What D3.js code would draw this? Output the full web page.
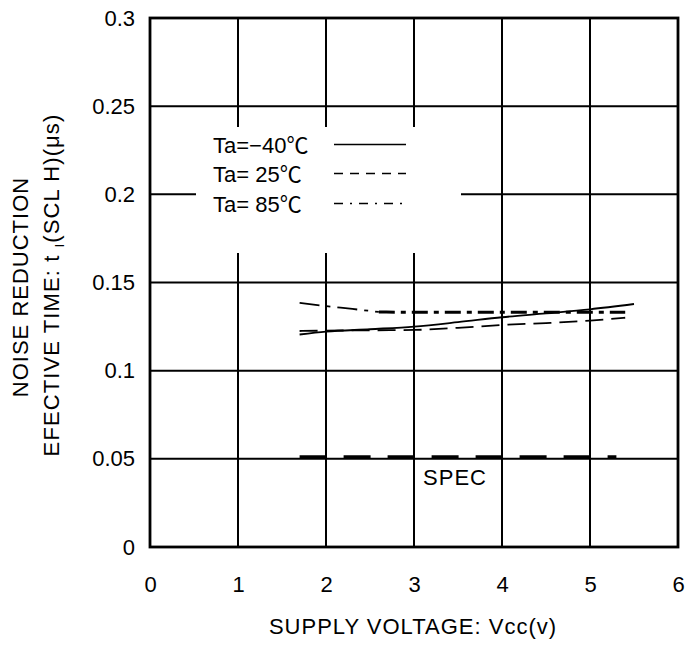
<!DOCTYPE html>
<html><head><meta charset="utf-8">
<script src="https://cdn.jsdelivr.net/npm/d3@7"></script>
<style>
body{margin:0;background:#fff;}
text{font-family:"Liberation Sans",Arial,"Noto Sans CJK JP",sans-serif;fill:#000;}
</style></head>
<body><svg id="c" width="686" height="645"></svg>
<script>
const xTicks = [0,1,2,3,4,5,6];
const yTicks = [0,0.05,0.1,0.15,0.2,0.25,0.3];
const yTickLabels = ["0","0.05","0.1","0.15","0.2","0.25","0.3"];

const vM40 = [1.7, 2.0, 2.5, 3.0, 3.5, 4.0, 4.5, 5.0, 5.5];
const tM40 = [0.1205, 0.1221, 0.1235, 0.1250, 0.1275, 0.1303, 0.1325, 0.1348, 0.1378];
const v25 = [1.7, 2.0, 2.5, 3.0, 3.5, 4.0, 4.5, 5.0, 5.4];
const t25 = [0.1225, 0.1227, 0.1229, 0.1231, 0.1243, 0.1259, 0.1270, 0.1284, 0.1300];
const v85 = [1.7, 2.0, 2.3, 2.6, 3.0, 4.0, 5.0, 5.4];
const t85 = [0.1384, 0.1366, 0.1350, 0.1333, 0.1331, 0.1331, 0.1331, 0.1331];
const specV = [1.7, 5.3];
const specT = [0.051, 0.051];

const legendLabels = ["Ta=−40℃","Ta= 25℃","Ta= 85℃"];
const dashes = [null, "18,8", "20,7,4,7"];
const legendDashes = [null, "9,7", "9,7,2,7"];

const FS = 22;
const svg = d3.select("#c");
const x = d3.scaleLinear().domain([0,6]).range([150,678]);
const y = d3.scaleLinear().domain([0,0.3]).range([547,18]);

// grid
const g = svg.append("g");
g.selectAll(".vg").data(xTicks).join("line")
  .attr("x1",d=>x(d)).attr("x2",d=>x(d)).attr("y1",y(0)).attr("y2",y(0.3))
  .attr("stroke","#000").attr("stroke-width",2);
g.selectAll(".hg").data(yTicks).join("line")
  .attr("x1",x(0)).attr("x2",x(6)).attr("y1",d=>y(d)).attr("y2",d=>y(d))
  .attr("stroke","#000").attr("stroke-width",2);

// legend white box (covers grid)
svg.append("rect").attr("x",196).attr("y",127).attr("width",265).attr("height",126).attr("fill","#fff");

// frame
svg.append("rect").attr("x",x(0)).attr("y",y(0.3)).attr("width",x(6)-x(0)).attr("height",y(0)-y(0.3))
  .attr("fill","none").attr("stroke","#000").attr("stroke-width",2.8);

// axes labels
const xAxis = d3.axisBottom(x).tickValues(xTicks).tickSize(0).tickPadding(0).tickFormat(d3.format("d"));
const xa = svg.append("g").attr("transform",`translate(0,${y(0)})`).call(xAxis);
xa.select(".domain").remove();
xa.selectAll("text").attr("font-size",FS).attr("font-family","Liberation Sans, Arial, sans-serif").attr("fill","#000")
  .attr("dy",null).attr("y",45);
const yAxis = d3.axisLeft(y).tickValues(yTicks).tickSize(0).tickPadding(15).tickFormat((d,i)=>yTickLabels[i]);
const ya = svg.append("g").attr("transform",`translate(${x(0)},0)`).call(yAxis);
ya.select(".domain").remove();
ya.selectAll("text").attr("font-size",FS).attr("font-family","Liberation Sans, Arial, sans-serif").attr("fill","#000");

// series
const line = d3.line().x(d=>x(d[0])).y(d=>y(d[1])).curve(d3.curveMonotoneX);
const s85 = d3.zip(v85,t85);
const series = [d3.zip(vM40,tM40), d3.zip(v25,t25)];
series.forEach((s,i)=>{
  svg.append("path").datum(s).attr("d",line).attr("fill","none").attr("stroke","#000")
    .attr("stroke-width",1.8).attr("stroke-dasharray",dashes[i]);
});
svg.append("path").datum(s85.slice(0,4)).attr("d",line).attr("fill","none").attr("stroke","#000")
  .attr("stroke-width",1.8).attr("stroke-dasharray",dashes[2]);
svg.append("path").datum(s85.slice(3)).attr("d",line).attr("fill","none").attr("stroke","#000")
  .attr("stroke-width",3).attr("stroke-dasharray","16,6,5,6");

// spec line
svg.append("path").datum(d3.zip(specV,specT)).attr("d",d3.line().x(d=>x(d[0])).y(d=>y(d[1])))
  .attr("fill","none").attr("stroke","#000").attr("stroke-width",3.5).attr("stroke-dasharray","27,17");
svg.append("text").attr("x",455).attr("y",485).attr("text-anchor","middle").attr("font-size",FS)
  .attr("letter-spacing",1).text("SPEC");

// legend
legendLabels.forEach((lab,i)=>{
  const by = [153,182,212][i];
  svg.append("text").attr("x",213).attr("y",by).attr("font-size",FS).text(lab);
  svg.append("line").attr("x1",334).attr("x2",406).attr("y1",by-8.5).attr("y2",by-8.5)
    .attr("stroke","#000").attr("stroke-width",1.6).attr("stroke-dasharray",legendDashes[i]);
});

// axis titles
svg.append("text").attr("x",413).attr("y",634).attr("text-anchor","middle").attr("font-size",FS)
  .attr("letter-spacing",1).text("SUPPLY VOLTAGE: Vcc(v)");
svg.append("text").attr("transform","translate(28,287) rotate(-90)").attr("text-anchor","middle").attr("font-size",FS)
  .attr("letter-spacing",1).text("NOISE REDUCTION");
const t2 = svg.append("text").attr("transform","translate(59,285) rotate(-90)").attr("text-anchor","middle")
  .attr("font-size",FS).attr("letter-spacing",1.1);
t2.append("tspan").text("EFECTIVE TIME: t ");
t2.append("tspan").attr("font-size",13).attr("dy",5).text("I");
t2.append("tspan").attr("dy",-5).text("(SCL H)(μs)");
</script></body></html>
